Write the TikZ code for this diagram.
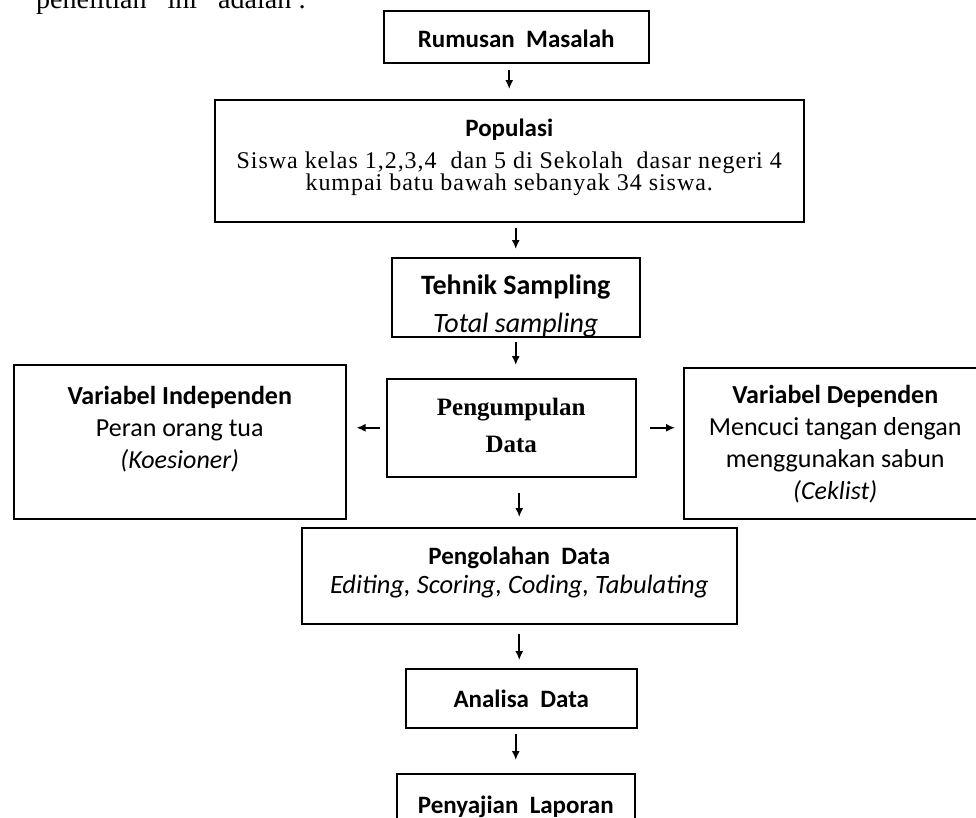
\documentclass[tikz,border=0pt]{standalone}
\usepackage{fontspec}
\setmainfont{Liberation Serif}
\newfontfamily\calibri{Carlito}
\usetikzlibrary{arrows.meta}

\begin{document}
\begin{tikzpicture}[x=1pt, y=-1pt,
  box/.style={draw, line width=1.5pt, anchor=north west, inner sep=0pt},
  boxtext/.style={anchor=north, inner sep=0pt, yshift=-20pt, align=center,
    font=\calibri\fontsize{25}{32}\selectfont},
  arr/.style={-{Latex[length=9pt,width=8pt]}, line width=1.6pt}]
\useasboundingbox (0,0) rectangle (976,817);
\clip (0,0) rectangle (976,817);

% Kalimat pengantar (terpotong di atas)
\node[anchor=base west, inner sep=0pt, font=\fontsize{28}{30}\selectfont] (pengantar) at (36,8) {penelitian\ \ \ ini\ \ \ adalah :};

% Rumusan masalah
\node[box, minimum width=265pt, minimum height=52pt,
  label={[boxtext, name=rumusanteks]north:\textbf{Rumusan\ \ Masalah}}] (rumusan) at (383,10) {};

% Populasi
\node[box, minimum width=589pt, minimum height=122pt,
  label={[boxtext, name=populasiteks]north:{\textbf{Populasi}\\
    {\rmfamily\fontsize{24}{22}\selectfont\addfontfeature{LetterSpace=4}Siswa kelas 1,2,3,4\ \ dan 5 di Sekolah\ \ dasar negeri 4}\\[-10pt]
    {\rmfamily\fontsize{24}{22}\selectfont\addfontfeature{LetterSpace=4}kumpai\ batu bawah sebanyak 34 siswa.}}}] (populasi) at (214,99) {};

% Tehnik sampling (baris bawah terpotong kotak)
\node[box, minimum width=248pt, minimum height=79pt,
  path picture={\node[boxtext, yshift=12pt, font=\calibri\fontsize{28}{32}\selectfont] (tehnikteks) at (path picture bounding box.north)
    {\textbf{Tehnik Sampling}\\[6pt]\textit{Total sampling}};}] (tehnik) at (391,257) {};

% Pengumpulan data
\node[box, minimum width=249pt, minimum height=98pt,
  label={[boxtext, name=kumpulteks, font=\rmfamily\bfseries\fontsize{25}{37}\selectfont]north:{Pengumpulan\\Data}}] (kumpul) at (386,378) {};

% Variabel independen
\node[box, minimum width=332pt, minimum height=154pt,
  label={[boxtext, name=indepteks, yshift=-2pt, font=\calibri\fontsize{26}{32}\selectfont]north:{\textbf{Variabel Independen}\\Peran orang tua\\\textit{(Koesioner)}}}] (indep) at (13,364) {};

% Variabel dependen
\node[box, minimum width=303pt, minimum height=151pt,
  label={[boxtext, name=depteks, yshift=2pt, font=\calibri\fontsize{26}{32}\selectfont]north:{\textbf{Variabel Dependen}\\Mencuci tangan dengan\\menggunakan sabun\\\textit{(Ceklist)}}}] (dep) at (683,367) {};

% Pengolahan data
\node[box, minimum width=435pt, minimum height=96pt,
  label={[boxtext, name=olahteks]north:{\textbf{Pengolahan\ \ Data}\\[-3pt]{\fontsize{26.5}{32}\selectfont\itshape Editing, Scoring, Coding, Tabulating}}}] (olah) at (301,527) {};

% Analisa data
\node[box, minimum width=231pt, minimum height=59pt,
  label={[boxtext, name=analisateks, yshift=-2pt]north:\textbf{Analisa\ \ Data}}] (analisa) at (405,668) {};

% Penyajian laporan
\node[box, minimum width=238pt, minimum height=64pt,
  label={[boxtext, name=sajiteks, yshift=-3pt]north:\textbf{Penyajian\ \ Laporan}}] (saji) at (396,773) {};

% Panah
\draw[arr, shorten <=6pt, shorten >=10pt] (populasi.north |- rumusan.south) -- (populasi.north);
\draw[arr, shorten <=5pt, shorten >=8pt] (tehnik.north |- populasi.south) -- (tehnik.north);
\draw[arr, shorten <=4pt, shorten >=13pt] (tehnik.south) -- (tehnik.south |- kumpul.north);
\draw[arr, shorten <=6pt, shorten >=10pt] (kumpul.west) -- (kumpul.west -| indep.east);
\draw[arr, shorten <=13pt, shorten >=8pt] (kumpul.east) -- (kumpul.east -| dep.west);
\draw[arr, shorten <=15pt, shorten >=10pt] (olah.north |- kumpul.south) -- (olah.north);
\draw[arr, shorten <=9pt, shorten >=8pt] (olah.south) -- (olah.south |- analisa.north);
\draw[arr, shorten <=5pt, shorten >=13pt] (saji.north |- analisa.south) -- (saji.north);
\end{tikzpicture}
\end{document}
